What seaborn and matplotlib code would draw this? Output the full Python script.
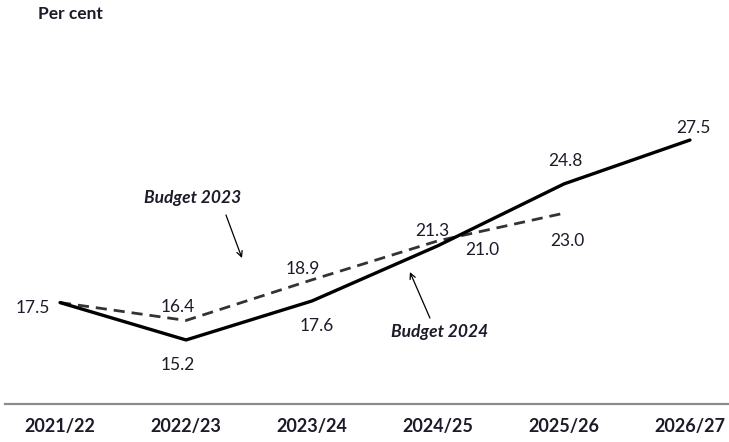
import pandas as pd
import seaborn as sns
import matplotlib.pyplot as plt

sns.set_style("white")
plt.rcParams['font.family'] = ['Lato', 'DejaVu Sans']

years = ['2021/22', '2022/23', '2023/24', '2024/25', '2025/26', '2026/27']
budget_2024 = [17.5, 15.2, 17.6, 21.0, 24.8, 27.5]
budget_2023 = [17.5, 16.4, 18.9, 21.3, 23.0]

TEXT = '#1b1b2a'

df24 = pd.DataFrame({'idx': range(len(budget_2024)), 'value': budget_2024})
df23 = pd.DataFrame({'idx': range(len(budget_2023)), 'value': budget_2023})

fig = plt.figure(figsize=(7.29, 4.42), dpi=100)
ax = fig.add_axes([5 / 729, 38 / 442, 724 / 729, 374 / 442])

sns.lineplot(data=df23, x='idx', y='value', ax=ax, color='#333333', lw=2.0,
             linestyle=(0, (4, 2.5)), solid_joinstyle='round', dash_joinstyle='round')
sns.lineplot(data=df24, x='idx', y='value', ax=ax, color='black', lw=2.4,
             solid_joinstyle='round', solid_capstyle='round')

ax.set_xlim(-0.437, 5.31)
ax.set_ylim(11.26, 34.27)

# value labels: (series, index, dx px, dy px)
labels = [
    (budget_2024, 0, -27, -5),
    (budget_2023, 1, -8, 13),
    (budget_2024, 1, -8, -25),
    (budget_2023, 2, -9, 11),
    (budget_2024, 2, 5, -25),
    (budget_2023, 3, -6, 10),
    (budget_2024, 3, 44, -4),
    (budget_2024, 4, 1, 23),
    (budget_2023, 4, 3, -28),
    (budget_2024, 5, 3, 12),
]
for series, i, dx, dy in labels:
    ax.annotate(f'{series[i]:.1f}', (i, series[i]), xytext=(dx, dy),
                textcoords='offset pixels', ha='center', va='center',
                fontsize=12.5, color=TEXT)

# series names with arrows
for name, tx, ty, tail, head in [
    ('Budget 2023', 1.055, 23.94, (1.317, 22.89), (1.444, 20.24)),
    ('Budget 2024', 3.015, 15.69, (2.936, 16.55), (2.777, 19.38)),
]:
    ax.text(tx, ty, name, ha='center', va='center', fontsize=12.5,
            fontstyle='italic', fontweight='bold', color=TEXT)
    ax.annotate('', xy=head, xytext=tail,
                arrowprops=dict(arrowstyle='->', color='black', lw=0.9,
                                shrinkA=0, shrinkB=0))

ax.set_xticks(range(len(years)))
ax.set_xticklabels(years, fontsize=13, fontweight='bold', color=TEXT)
ax.tick_params(axis='x', length=0, pad=10)
ax.set_yticks([])
ax.set_xlabel('')
ax.set_ylabel('')
for side in ['top', 'left', 'right']:
    ax.spines[side].set_visible(False)
ax.spines['bottom'].set_color('#8c8c8c')
ax.spines['bottom'].set_linewidth(1.6)

fig.text(38 / 729, 1 - 14 / 442, 'Per cent', ha='left', va='center',
         fontsize=12.5, fontweight='bold', color=TEXT)

fig.savefig('out.png', dpi=100)
